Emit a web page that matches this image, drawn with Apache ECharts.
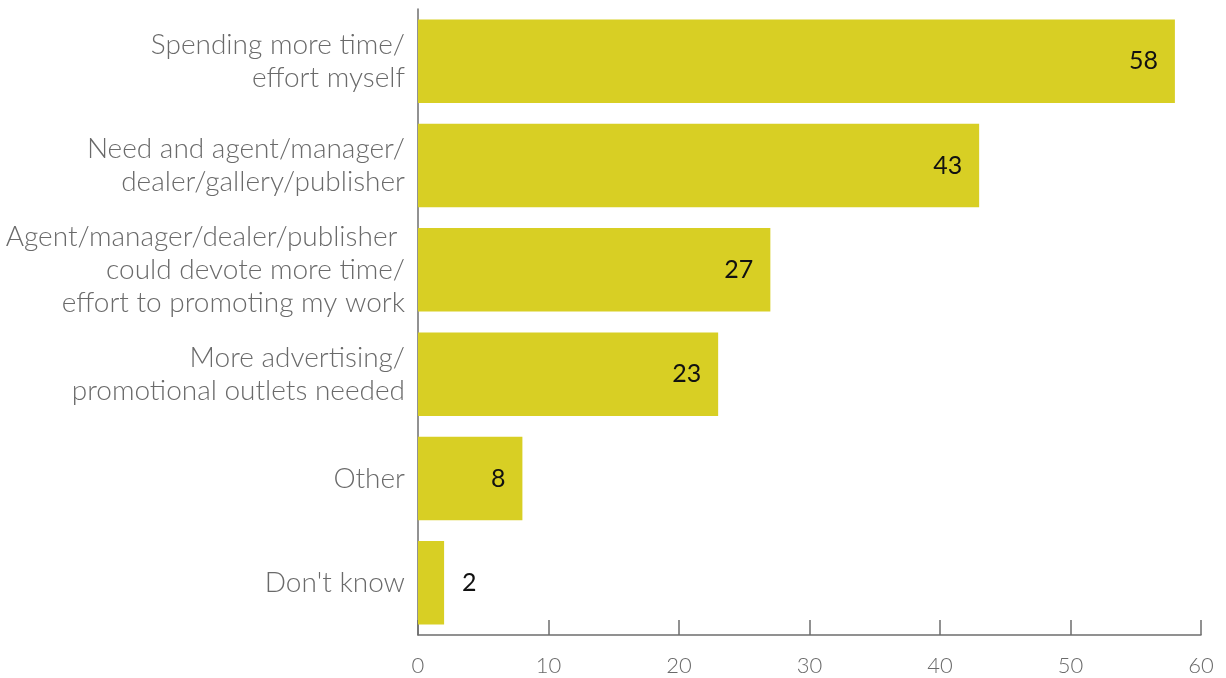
<!DOCTYPE html>
<html>
<head>
<meta charset="utf-8">
<script src="https://cdn.jsdelivr.net/npm/echarts@6/dist/echarts.min.js"></script>
<style>
  html, body { margin: 0; padding: 0; background: #fff; }
  #chart { width: 1226px; height: 678px; }
</style>
</head>
<body>
<div id="chart"></div>
<script>
// Reasons cited (percent of respondents)
const categories = [
  "Spending more time/\neffort myself",
  "Need and agent/manager/\ndealer/gallery/publisher",
  "Agent/manager/dealer/publisher \ncould devote more time/\neffort to promoting my work",
  "More advertising/\npromotional outlets needed",
  "Other",
  "Don't know"
];
const values = [58, 43, 27, 23, 8, 2];
const xTicks = [0, 10, 20, 30, 40, 50, 60];

const BAR = '#d8cf24';
const AXIS = '#6e6e6e';
const TEXT = '#6a6a6a';
const FONT = 'Lato';

const chart = echarts.init(document.getElementById('chart'), null, { renderer: 'canvas' });

const dataItems = values.map(v => ({
  value: v,
  label: v < 5
    ? { position: 'right', distance: 18 }
    : { position: 'insideRight', distance: 17 }
}));

chart.setOption({
  animation: false,
  grid: { left: 418, right: 25, top: 9, bottom: 43, containLabel: false },
  xAxis: {
    type: 'value',
    min: xTicks[0],
    max: xTicks[xTicks.length - 1],
    interval: 10,
    splitLine: { show: false },
    axisLine: { show: true, lineStyle: { color: AXIS, width: 1.5 } },
    axisTick: { show: true, inside: true, length: 15, lineStyle: { color: AXIS, width: 1.5 } },
    axisLabel: {
      margin: 20,
      color: TEXT,
      fontFamily: FONT,
      fontWeight: 300,
      fontSize: 22
    }
  },
  yAxis: {
    type: 'category',
    inverse: true,
    data: categories,
    axisLine: { show: true, lineStyle: { color: AXIS, width: 1.5 } },
    axisTick: { show: false },
    axisLabel: {
      margin: 13,
      color: TEXT,
      fontFamily: FONT,
      fontWeight: 300,
      fontSize: 28,
      lineHeight: 33,
      align: 'right'
    }
  },
  series: [{
    type: 'bar',
    data: dataItems,
    barCategoryGap: '20%',
    itemStyle: { color: BAR },
    label: {
      show: true,
      color: '#111',
      fontFamily: FONT,
      fontSize: 25,
      formatter: p => String(p.value)
    }
  }]
});
</script>
</body>
</html>
